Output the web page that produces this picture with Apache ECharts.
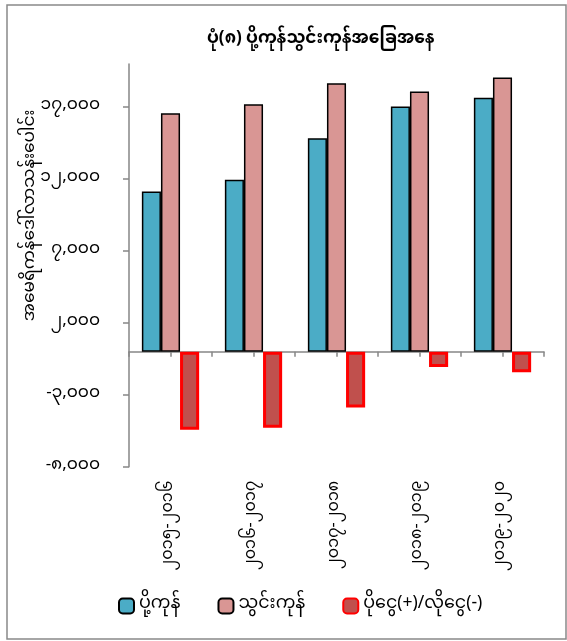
<!DOCTYPE html>
<html>
<head>
<meta charset="utf-8">
<script src="https://cdn.jsdelivr.net/npm/echarts@6/dist/echarts.min.js"></script>
<style>
html,body{margin:0;padding:0;background:#fff;}
#c{width:567px;height:641px;}
</style>
</head>
<body>
<div id="c"></div>
<script>
var categories = ['2015-2016','2016-2017','2017-2018','2018-2019','2019-2020'];
var exportsVals = [11140, 11960, 14830, 17050, 17650];
var importsVals = [16580, 17210, 18670, 18090, 19060];
var balanceVals = [-5430, -5300, -3880, -1070, -1430];
var yTicks = [-8000, -3000, 2000, 7000, 12000, 17000];
var seriesNames = ['ပို့ကုန်', 'သွင်းကုန်', 'ပိုငွေ(+)/လိုငွေ(-)'];
var titleText = 'ပုံ(၈) ပို့ကုန်သွင်းကုန်အခြေအနေ';
var yName = 'အမေရိကန်ဒေါ်လာသန်းပေါင်း';

function toMy(s){ return String(s).replace(/[0-9]/g, function(d){ return String.fromCharCode(0x1040 + (+d)); }); }
function fmtNum(v){
  var neg = v < 0; var a = Math.abs(v);
  var s = a.toString().replace(/\B(?=(\d{3})+(?!\d))/g, ',');
  return toMy((neg ? '-' : '') + s);
}
var FONT = '"Noto Sans Myanmar","Padauk","Myanmar Text","Noto Sans",sans-serif';
var tickCats = []; for (var i = 0; i < categories.length * 2; i++) tickCats.push('t' + i);

var chart = echarts.init(document.getElementById('c'), null, {renderer:'canvas'});
chart.setOption({
  backgroundColor: '#fff',
  animation: false,
  textStyle: {fontFamily: FONT, color: '#000'},
  graphic: [{
    type: 'rect', shape: {x: 7, y: 5, width: 559, height: 634},
    style: {fill: 'none', stroke: '#898989', lineWidth: 1.5}, z: -1
  }],
  title: {
    text: titleText, left: 202, top: 28,
    textStyle: {fontFamily: FONT, fontSize: 17, fontWeight: 'bold', color: '#000'}
  },
  legend: {
    data: seriesNames, left: 113, top: 592, itemWidth: 15, itemHeight: 15, itemGap: 37,
    textStyle: {fontFamily: FONT, fontSize: 17.5, color: '#000'}
  },
  grid: {left: 129, top: 64, right: 23, bottom: 174.3},
  xAxis: [{
    type: 'category', data: categories,
    axisLine: {show: false, onZero: false}, axisTick: {show: false},
    axisLabel: {rotate: 90, margin: 14, fontSize: 16, color: '#000', fontFamily: FONT,
      formatter: function(v){ return toMy(v); }}
  }, {
    type: 'category', data: tickCats, position: 'bottom',
    axisLine: {show: true, onZero: true, lineStyle: {color: '#868686', width: 1.5}},
    axisTick: {show: true, length: 5, lineStyle: {color: '#868686', width: 1.5}},
    axisLabel: {show: false}
  }],
  yAxis: {
    type: 'value', min: -8000, max: 20000,
    name: yName, nameLocation: 'middle', nameGap: 88, nameRotate: 90, nameMoveOverlap: false,
    nameTextStyle: {fontFamily: FONT, fontSize: 17, color: '#000', padding: [0, 0, 0, 100]},
    axisLine: {show: true, lineStyle: {color: '#868686', width: 1.5}},
    axisTick: {show: true, length: 6, customValues: yTicks, lineStyle: {color: '#868686', width: 1.5}},
    axisLabel: {margin: 29, fontSize: 17, color: '#000', fontFamily: FONT, customValues: yTicks,
      formatter: function(v){ return fmtNum(v); }},
    splitLine: {show: false}
  },
  series: [{
    name: seriesNames[0], type: 'bar', data: exportsVals, xAxisIndex: 0,
    barGap: '0%', barCategoryGap: '31%',
    itemStyle: {color: '#4BACC6', borderColor: '#000', borderWidth: 1.5}
  }, {
    name: seriesNames[1], type: 'bar', data: importsVals, xAxisIndex: 0,
    itemStyle: {color: '#D99694', borderColor: '#000', borderWidth: 1.5}
  }, {
    name: seriesNames[2], type: 'bar', data: balanceVals, xAxisIndex: 0,
    itemStyle: {color: '#C0504D', borderColor: '#FF0000', borderWidth: 3}
  }]
});
</script>
</body>
</html>
